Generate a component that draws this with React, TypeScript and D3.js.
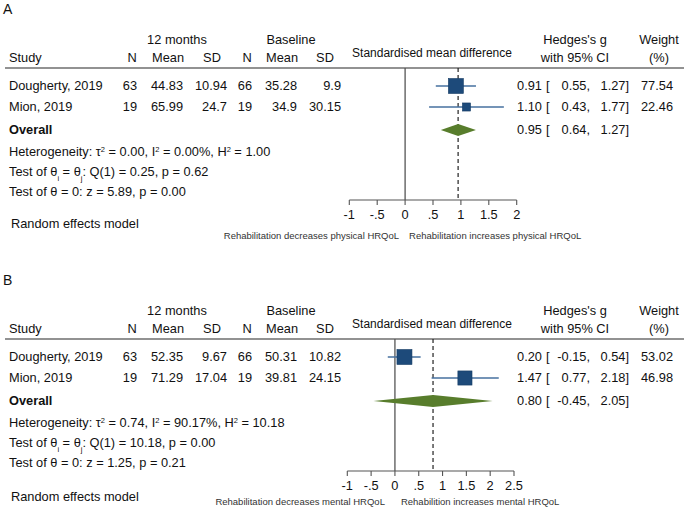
import React from "react";
import * as d3 from "d3";

// ---- data ----
const studies = ["Dougherty, 2019", "Mion, 2019"];

// A: physical HRQoL
const physN12 = ["63", "19"];
const physMean12 = ["44.83", "65.99"];
const physSD12 = ["10.94", "24.7"];
const physNBase = ["66", "19"];
const physMeanBase = ["35.28", "34.9"];
const physSDBase = ["9.9", "30.15"];
const physG = [0.91, 1.1];
const physLo = [0.55, 0.43];
const physHi = [1.27, 1.77];
const physWeight = [77.54, 22.46];
const physOverall = [0.95, 0.64, 1.27];
const physTicks = [-1, -0.5, 0, 0.5, 1, 1.5, 2];
const physHet = ["0.00", "0.00%", "1.00"];
const physQ = ["0.25", "0.62"];
const physZ = ["5.89", "0.00"];

// B: mental HRQoL
const mentN12 = ["63", "19"];
const mentMean12 = ["52.35", "71.29"];
const mentSD12 = ["9.67", "17.04"];
const mentNBase = ["66", "19"];
const mentMeanBase = ["50.31", "39.81"];
const mentSDBase = ["10.82", "24.15"];
const mentG = [0.2, 1.47];
const mentLo = [-0.15, 0.77];
const mentHi = [0.54, 2.18];
const mentWeight = [53.02, 46.98];
const mentOverall = [0.8, -0.45, 2.05];
const mentTicks = [-1, -0.5, 0, 0.5, 1, 1.5, 2, 2.5];
const mentHet = ["0.74", "90.17%", "10.18"];
const mentQ = ["10.18", "0.00"];
const mentZ = ["1.25", "0.21"];

const FONT = "'Liberation Sans', Arial, Helvetica, sans-serif";
const BLUE = "#1d4a7a";
const BLUE_LINE = "#46719f";
const GREEN = "#587d2c";

// Stata style: -.5, .5 (plain hyphen minus)
const tickFmt = (v: number) => String(v).replace(/^(-?)0\./, "$1.");

const f2 = (v: number) => d3.format(".2f")(v).replace("\u2212", "-");

type PanelProps = {
  top: number;
  letter: string;
  n12: string[];
  mean12: string[];
  sd12: string[];
  nBase: string[];
  meanBase: string[];
  sdBase: string[];
  g: number[];
  lo: number[];
  hi: number[];
  weight: number[];
  overall: number[];
  ticks: number[];
  xRange: [number, number];
  het: string[];
  q: string[];
  z: string[];
  leftNote: string;
  rightNote: string;
  noteGap: [number, number];
  footY: [number, number];
};

function Panel(p: PanelProps) {
  const t = p.top;
  const x = d3
    .scaleLinear()
    .domain([p.ticks[0], p.ticks[p.ticks.length - 1]])
    .range(p.xRange);
  const size = d3.scaleSqrt().domain([0, d3.max(p.weight)!]).range([0, 15]);
  const rowY = [t + 86, t + 107];
  const overallY = t + 130;
  const hline = t + 68;
  const axisY = t + 200;
  const fs = 12.8;
  const txt = { fontFamily: FONT, fontSize: fs, fill: "#111" } as const;

  const cols: { x: number; head: string; vals: string[]; hx: number }[] = [
    { x: 137, hx: 132, head: "N", vals: p.n12 },
    { x: 183, hx: 168, head: "Mean", vals: p.mean12 },
    { x: 227, hx: 212, head: "SD", vals: p.sd12 },
    { x: 252, hx: 247, head: "N", vals: p.nBase },
    { x: 297, hx: 282, head: "Mean", vals: p.meanBase },
    { x: 341, hx: 325, head: "SD", vals: p.sdBase },
  ];

  const ciText = (est: number, lo: number, hi: number, y: number, key: string) => (
    <g key={key} {...txt}>
      <text x={542} y={y} dy="0.35em" textAnchor="end">{f2(est)}</text>
      <text x={546} y={y} dy="0.35em">[</text>
      <text x={590} y={y} dy="0.35em" textAnchor="end">{f2(lo)},</text>
      <text x={629} y={y} dy="0.35em" textAnchor="end">{f2(hi)}]</text>
    </g>
  );

  const sup = { baselineShift: "super", fontSize: 7.5 } as const;
  const sub = { baselineShift: "sub", fontSize: 7.5 } as const;

  return (
    <g>
      <text x={3} y={t + 9} dy="0.35em" {...txt} fontSize={14}>{p.letter}</text>

      {/* column group headers */}
      <text x={177} y={t + 40} dy="0.35em" textAnchor="middle" {...txt}>12 months</text>
      <text x={291} y={t + 40} dy="0.35em" textAnchor="middle" {...txt}>Baseline</text>
      <text x={9} y={t + 58} dy="0.35em" {...txt}>Study</text>
      {cols.map((c, i) => (
        <text key={"h" + i} x={c.hx} y={t + 58} dy="0.35em" textAnchor="middle" {...txt}>{c.head}</text>
      ))}
      <text x={432} y={t + 53} dy="0.35em" textAnchor="middle" {...txt} fontSize={12}>
        Standardised mean difference
      </text>
      <text x={575} y={t + 40} dy="0.35em" textAnchor="middle" {...txt}>Hedges's g</text>
      <text x={575} y={t + 58} dy="0.35em" textAnchor="middle" {...txt}>with 95% CI</text>
      <text x={659} y={t + 40} dy="0.35em" textAnchor="middle" {...txt}>Weight</text>
      <text x={659} y={t + 58} dy="0.35em" textAnchor="middle" {...txt}>(%)</text>

      <line x1={5} x2={684} y1={hline} y2={hline} stroke="#6e6e6e" strokeWidth={1.5} />

      {/* study rows */}
      {studies.map((s, i) => (
        <g key={s}>
          <text x={9} y={rowY[i]} dy="0.35em" {...txt}>{s}</text>
          {cols.map((c, j) => (
            <text key={j} x={c.x} y={rowY[i]} dy="0.35em" textAnchor="end" {...txt}>{c.vals[i]}</text>
          ))}
          {ciText(p.g[i], p.lo[i], p.hi[i], rowY[i], "ci" + i)}
          <text x={673} y={rowY[i]} dy="0.35em" textAnchor="end" {...txt}>{f2(p.weight[i])}</text>
        </g>
      ))}

      <text x={9} y={overallY} dy="0.35em" {...txt} fontWeight="bold">Overall</text>
      {ciText(p.overall[0], p.overall[1], p.overall[2], overallY, "cio")}

      <text x={9} y={t + 152} dy="0.35em" {...txt}>
        Heterogeneity: τ<tspan {...sup}>2</tspan> = {p.het[0]}, I<tspan {...sup}>2</tspan> = {p.het[1]}, H
        <tspan {...sup}>2</tspan> = {p.het[2]}
      </text>
      <text x={9} y={t + 172} dy="0.35em" {...txt}>
        Test of θ<tspan {...sub}>i</tspan> = θ<tspan {...sub}>j</tspan>: Q(1) = {p.q[0]}, p = {p.q[1]}
      </text>
      <text x={9} y={t + 192} dy="0.35em" {...txt}>
        Test of θ = 0: z = {p.z[0]}, p = {p.z[1]}
      </text>
      <text x={11} y={p.footY[0]} dy="0.35em" {...txt}>Random effects model</text>

      {/* plot region */}
      <line x1={x(0)} x2={x(0)} y1={hline} y2={axisY} stroke="#555" strokeWidth={1.3} />
      <line
        x1={x(p.overall[0])}
        x2={x(p.overall[0])}
        y1={hline}
        y2={axisY}
        stroke="#222"
        strokeWidth={1.2}
        strokeDasharray="4,3"
      />
      {studies.map((s, i) => {
        const w = size(p.weight[i]);
        return (
          <g key={"m" + i}>
            <line x1={x(p.lo[i])} x2={x(p.hi[i])} y1={rowY[i]} y2={rowY[i]} stroke={BLUE_LINE} strokeWidth={1.3} />
            <rect
              x={x(p.g[i]) - w / 2}
              y={rowY[i] - w / 2}
              width={w}
              height={w}
              fill={BLUE}
              stroke="#163c64"
              strokeWidth={0.6}
            />
          </g>
        );
      })}
      <path
        d={`M${x(p.overall[1])},${overallY} L${x(p.overall[0])},${overallY - 6} L${x(p.overall[2])},${overallY} L${x(p.overall[0])},${overallY + 6} Z`}
        fill={GREEN}
      />

      {/* axis */}
      <line x1={x.range()[0]} x2={x.range()[1]} y1={axisY} y2={axisY} stroke="#555" strokeWidth={1.1} />
      {p.ticks.map((v) => (
        <g key={"t" + v}>
          <line x1={x(v)} x2={x(v)} y1={axisY} y2={axisY + 5} stroke="#555" strokeWidth={1.1} />
          <text x={x(v)} y={axisY + 15} dy="0.35em" textAnchor="middle" {...txt}>{tickFmt(v)}</text>
        </g>
      ))}
      <text x={x(0) - p.noteGap[0]} y={p.footY[1]} dy="0.35em" textAnchor="end" {...txt} fontSize={9.5} fill="#333">
        {p.leftNote}
      </text>
      <text x={x(0) + p.noteGap[1]} y={p.footY[1]} dy="0.35em" {...txt} fontSize={9.5} fill="#333">
        {p.rightNote}
      </text>
    </g>
  );
}

export default function App() {
  return (
    <svg
      width={689}
      height={509}
      style={{ position: "absolute", left: 0, top: 0, background: "#fff" }}
    >
      <rect width={689} height={509} fill="#fff" />
      <Panel
        top={0}
        letter="A"
        n12={physN12}
        mean12={physMean12}
        sd12={physSD12}
        nBase={physNBase}
        meanBase={physMeanBase}
        sdBase={physSDBase}
        g={physG}
        lo={physLo}
        hi={physHi}
        weight={physWeight}
        overall={physOverall}
        ticks={physTicks}
        xRange={[349.3, 516.7]}
        het={physHet}
        q={physQ}
        z={physZ}
        leftNote="Rehabilitation decreases physical HRQoL"
        rightNote="Rehabilitation increases physical HRQoL"
        noteGap={[6, 4]}
        footY={[224, 236]}
      />
      <Panel
        top={271}
        letter="B"
        n12={mentN12}
        mean12={mentMean12}
        sd12={mentSD12}
        nBase={mentNBase}
        meanBase={mentMeanBase}
        sdBase={mentSDBase}
        g={mentG}
        lo={mentLo}
        hi={mentHi}
        weight={mentWeight}
        overall={mentOverall}
        ticks={mentTicks}
        xRange={[347.3, 514]}
        het={mentHet}
        q={mentQ}
        z={mentZ}
        leftNote="Rehabilitation decreases mental HRQoL"
        rightNote="Rehabilition increases mental HRQoL"
        noteGap={[10, 6]}
        footY={[497, 502]}
      />
    </svg>
  );
}
